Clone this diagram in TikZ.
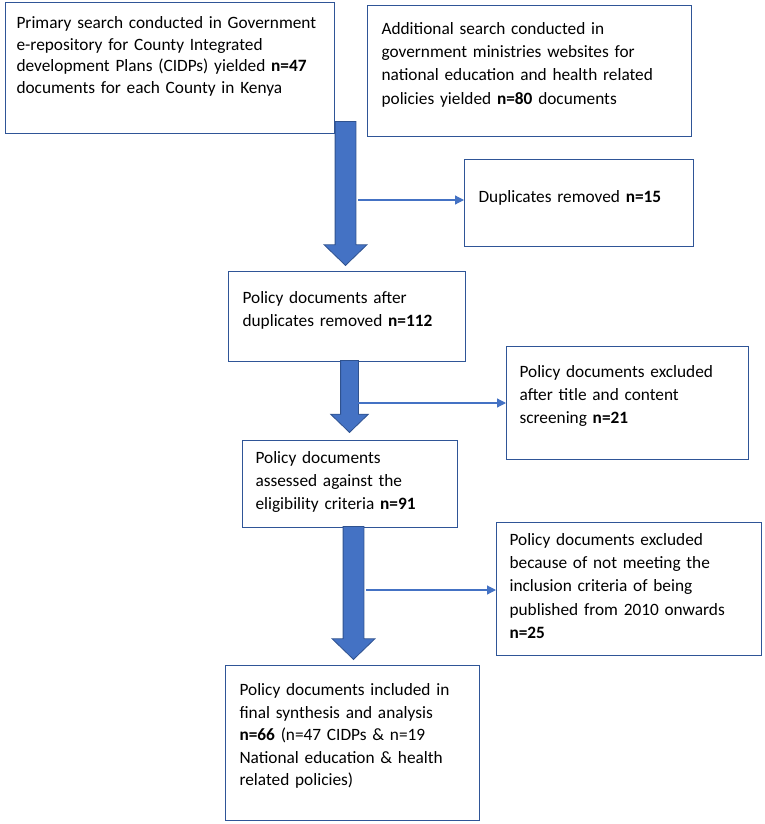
\documentclass[tikz,border=0pt]{standalone}
\usepackage{fontspec}
\setmainfont{Carlito}
\usepackage{tikz}
\usetikzlibrary{
        shapes,
        positioning,
        arrows.meta
    }
\definecolor{boxline}{HTML}{2F5597}
\definecolor{arrowfill}{HTML}{4472C4}
\definecolor{arrowline}{HTML}{2F528F}

\begin{document}
\begin{tikzpicture}
[x=1pt, y=-1pt,
box/.style={draw=boxline, line width=1.1pt, anchor=north west, align=left, inner ysep=0pt, font=\fontsize{17.3}{23.2}\selectfont},
fatarrow/.style={single arrow, draw=arrowline, fill=arrowfill, line width=0.8pt, inner sep=10pt, single arrow head extend=11pt, single arrow tip angle=92, shape border rotate=270, anchor=tip},
thinarrow/.style={draw=arrowfill, line width=1.2pt, -{Triangle[length=9pt, width=9pt]}},]
\useasboundingbox (0,0) rectangle (765,824);

\node (primary) [box, font=\fontsize{17.3}{21.5}\selectfont, inner xsep=11pt, text width=307pt, text height=26pt, text depth=105pt] at (5,2)
{Primary search conducted in Government\\ e-repository for County Integrated\\ development Plans (CIDPs) yielded \textbf{n=47}\\ documents for each County in Kenya};
\node (additional) [box, inner xsep=14pt, text width=296pt, text height=29pt, text depth=102pt] at (367,5)
{Additional search conducted in\\ government ministries websites for\\ national education and health related\\ policies yielded \textbf{n=80} documents};
\node (dup) [box, inner xsep=14pt, text width=201pt, text height=43pt, text depth=44pt] at (464,159)
{Duplicates removed \textbf{n=15}};
\node (afterdup) [box, inner xsep=14pt, text width=209pt, text height=32pt, text depth=58pt] at (228,271)
{Policy documents after\\ duplicates removed \textbf{n=112}};
\node (excl1) [box, inner xsep=13pt, text width=216pt, text height=31pt, text depth=82pt] at (506,346)
{Policy documents excluded\\ after title and content\\ screening \textbf{n=21}};
\node (assessed) [box, inner xsep=13pt, text width=189pt, text height=23pt, text depth=64pt] at (242,440)
{Policy documents\\ assessed against the\\ eligibility criteria \textbf{n=91}};
\node (excl2) [box, inner xsep=13pt, text width=239pt, text height=23pt, text depth=110pt] at (496,522)
{Policy documents excluded\\ because of not meeting the\\ inclusion criteria of being\\ published from 2010 onwards\\ \textbf{n=25}};
\node (final) [box, font=\fontsize{17.3}{22.5}\selectfont, inner xsep=14pt, text width=226pt, text height=30pt, text depth=125pt] at (225,665)
{Policy documents included in\\ final synthesis and analysis\\ \textbf{n=66} (n=47 CIDPs \& n=19\\ National education \& health\\ related policies)};

% block arrows down the middle
\node (fat1) [fatarrow, minimum height=144pt] at (345.5,266) {};
\node (fat2) [fatarrow, minimum height=72pt, inner sep=8.5pt, single arrow head extend=10pt] at (349.5,433) {};
\node (fat3) [fatarrow, minimum height=133pt] at (353.5,660) {};

% side arrows to the removed boxes
\coordinate (out1) at (358,200);
\coordinate (out2) at (358,403);
\coordinate (out3) at (366,590);
\draw [thinarrow] (out1) -- (out1 -| dup.west);
\draw [thinarrow] (out2) -- (out2 -| excl1.west);
\draw [thinarrow] (out3) -- (out3 -| excl2.west);

\end{tikzpicture}
\end{document}
